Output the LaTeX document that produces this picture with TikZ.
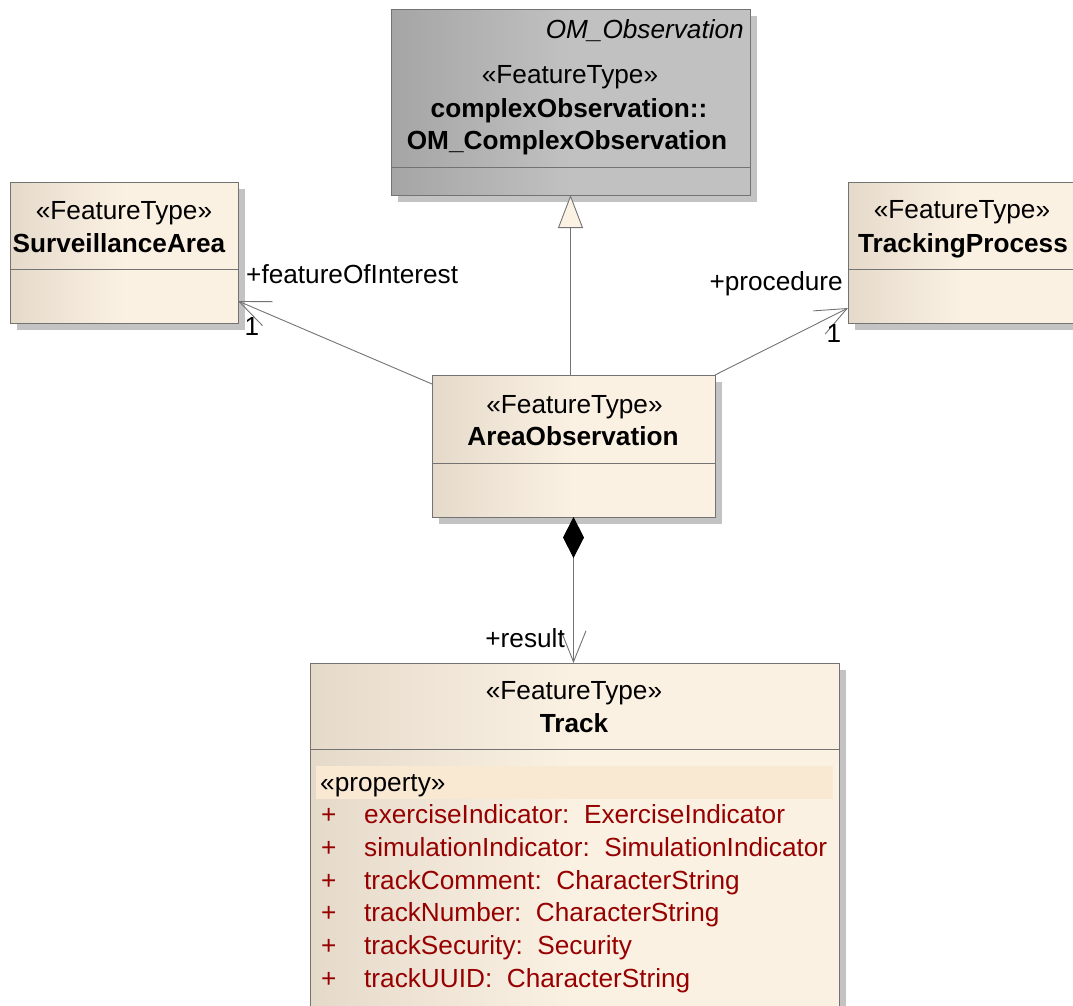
\documentclass[tikz,border=0pt]{standalone}
\usepackage{fontspec}
\setmainfont{Liberation Sans}
\usepackage{xcolor}
\usetikzlibrary{arrows.meta,positioning,shadows}

\definecolor{umlBeigeL}{RGB}{229,218,202}
\definecolor{umlBeigeR}{RGB}{251,241,227}
\definecolor{umlGrayL}{RGB}{165,165,165}
\definecolor{umlGrayR}{RGB}{193,193,193}
\definecolor{umlEdge}{RGB}{115,115,115}
\definecolor{umlShadow}{RGB}{195,195,195}
\definecolor{umlBand}{RGB}{249,232,210}
\definecolor{umlAttr}{RGB}{150,0,0}
\definecolor{umlTri}{RGB}{252,242,228}

\begin{document}
\begin{tikzpicture}[
  x=1pt, y=-1pt, inner sep=0pt,
  font=\fontsize{26.2}{33}\selectfont,
  umlclass/.style={draw=umlEdge, line width=1pt, outer sep=0pt,
    left color=umlBeigeL, right color=umlBeigeR, middle color=umlBeigeR,
    drop shadow={shadow xshift=7pt, shadow yshift=-7pt, fill=umlShadow, opacity=1}},
  abstractclass/.style={umlclass, left color=umlGrayL, right color=umlGrayR, middle color=umlGrayR},
  sepline/.style={draw=umlEdge, line width=0.9pt},
  assoc/.style={draw=umlEdge, line width=0.9pt},
  stereo/.style={anchor=base},
  cname/.style={anchor=base, font=\fontsize{26.2}{33}\selectfont\bfseries},
  attr/.style={anchor=base west, text=umlAttr},
  openhead/.style={-{Straight Barb[length=31pt,width=26pt]}}
]
\useasboundingbox (0,0) rectangle (1073,1005);
\clip (0,0) rectangle (1073,1005);

% class boxes
\node[abstractclass, minimum width=359, minimum height=186] (omobs) at (570.5,102) {};
\node[umlclass, minimum width=228, minimum height=141] (sarea) at (124,252.5) {};
\node[umlclass, minimum width=228, minimum height=141] (tproc) at (962,252.5) {};
\node[umlclass, minimum width=283, minimum height=142] (aobs) at (573.5,446) {};
\node[umlclass, minimum width=529, minimum height=352] (track) at (574.5,839) {};

% OM_ComplexObservation
\node[anchor=base east, font=\fontsize{26.2}{33}\selectfont\itshape] (omabs) at (744,38) {OM\_Observation};
\node[stereo] (omst) at (570,83) {«FeatureType»};
\node[cname] (omname) at (569,117) {complexObservation::};
\node[cname] (omname2) at (567,149) {OM\_ComplexObservation};
\draw[sepline] (omobs.west |- 0,167) -- (omobs.east |- 0,167);

% SurveillanceArea
\node[stereo] (sast) at (124,219) {«FeatureType»};
\node[cname] (saname) at (119,252) {SurveillanceArea};
\draw[sepline] (sarea.west |- 0,269) -- (sarea.east |- 0,269);

% TrackingProcess
\node[stereo] (tpst) at (962,218) {«FeatureType»};
\node[cname] (tpname) at (963,252) {TrackingProcess};
\draw[sepline] (tproc.west |- 0,269) -- (tproc.east |- 0,269);

% AreaObservation
\node[stereo] (aost) at (574.5,413) {«FeatureType»};
\node[cname] (aoname) at (573,445) {AreaObservation};
\draw[sepline] (aobs.west |- 0,463) -- (aobs.east |- 0,463);

% Track
\node[stereo] (trst) at (574,699) {«FeatureType»};
\node[cname] (trname) at (574,732) {Track};
\draw[sepline] (track.west |- 0,749) -- (track.east |- 0,749);
\node[fill=umlBand, minimum width=517, minimum height=33, anchor=north west] (propband) at (316,766) {};
\node[anchor=base west] (propst) at (320,791) {«property»};
\foreach \attrname/\attrtype [count=\i] in {exerciseIndicator/ExerciseIndicator,
    simulationIndicator/SimulationIndicator, trackComment/CharacterString,
    trackNumber/CharacterString, trackSecurity/Security, trackUUID/CharacterString} {
  \node[attr] (plus\i) at (321,{791+32.7*\i}) {+};
  \node[attr] (attr\i) at (364,{791+32.7*\i}) {\attrname:\ \ \attrtype};
}

% connectors
\draw[assoc, -{Triangle[length=33pt,width=25pt,fill=umlTri]}] (aobs.north -| omobs.south) -- (omobs.south);
\draw[assoc, openhead] ([yshift=-9pt]aobs.north west) -- ([yshift=22pt]sarea.south east);
\draw[assoc, openhead] (aobs.north east) -- ([yshift=15pt]tproc.south west);
\draw[assoc, {Diamond[length=41pt,width=21pt,color=black]}-{Straight Barb[length=31pt,width=25pt]}]
  (aobs.south) -- (aobs.south |- track.north);

% role names and multiplicities
\node[anchor=base west] (foilabel) at (246,283) {+featureOfInterest};
\node[anchor=base] (foimult) at (252,335) {1};
\node[anchor=base east] (proclabel) at (843,290) {+procedure};
\node[anchor=base] (procmult) at (834,342) {1};
\node[anchor=base east] (reslabel) at (565,647) {+result};
\end{tikzpicture}
\end{document}
